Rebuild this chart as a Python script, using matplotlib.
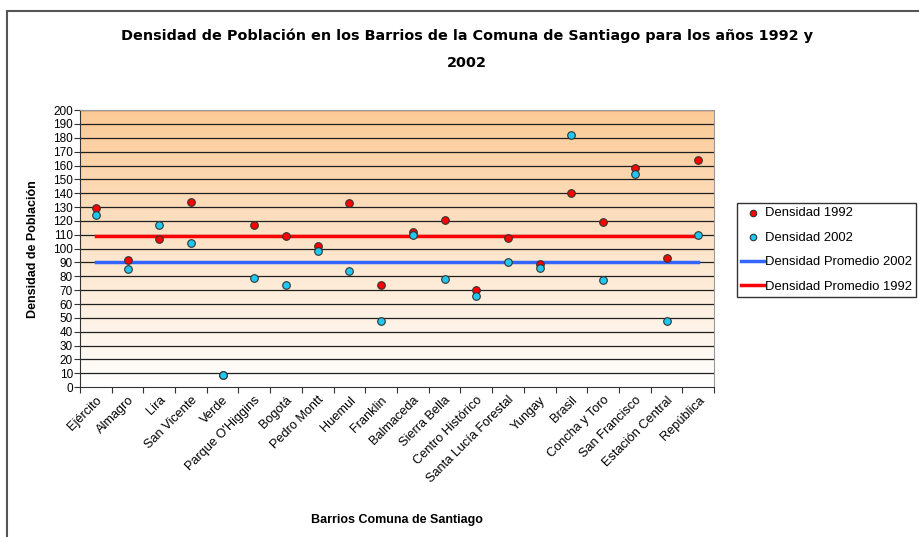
import numpy as np
import matplotlib
matplotlib.use("Agg")
import matplotlib.pyplot as plt
from matplotlib.colors import LinearSegmentedColormap
from matplotlib.patches import Rectangle

plt.rcParams['font.family'] = ['Liberation Sans', 'DejaVu Sans']

barrios = ["Ejército", "Almagro", "Lira", "San Vicente", "Verde", "Parque O'Higgins",
           "Bogotá", "Pedro Montt", "Huemul", "Franklin", "Balmaceda", "Sierra Bella",
           "Centro Histórico", "Santa Lucía Forestal", "Yungay", "Brasil",
           "Concha y Toro", "San Francisco", "Estación Central", "República"]
dens_1992 = [129, 92, 107, 134, 9, 117, 109, 102, 133, 74, 112, 121,
             70, 108, 89, 140, 119, 158, 93, 164]
dens_2002 = [124, 85, 117, 104, 9, 79, 74, 98, 84, 48, 110, 78,
             66, 90, 86, 182, 77, 154, 48, 110]
prom_1992 = 109
prom_2002 = 90

n = len(barrios)
x = np.arange(n)

fig = plt.figure(figsize=(9.19, 5.37), dpi=100)
ax = fig.add_axes([0.087, 0.279, 0.69, 0.516])

# gradient background
cmap = LinearSegmentedColormap.from_list("bg", ["#ffffff", "#fbca96"])
grad = np.linspace(0, 1, 256).reshape(-1, 1)
ax.imshow(grad, extent=[-0.5, n - 0.5, 0, 200], origin='lower', aspect='auto',
          cmap=cmap, zorder=0)

ax.set_xlim(-0.5, n - 0.5)
ax.set_ylim(0, 200)
ax.set_yticks(np.arange(0, 201, 10))
for v in range(10, 201, 10):
    ax.axhline(v, color='#202020', lw=0.9, zorder=1)

ax.plot(x, [prom_2002] * n, color='#3366ff', lw=2.5, zorder=2, label='Densidad Promedio 2002')
ax.plot(x, [prom_1992] * n, color='#ff0000', lw=2.5, zorder=2, label='Densidad Promedio 1992')
ax.scatter(x, dens_1992, s=30, color='#ff0000', edgecolor='#333333', lw=0.8, zorder=3,
           label='Densidad 1992')
ax.scatter(x, dens_2002, s=30, color='#1ec8f0', edgecolor='#333333', lw=0.8, zorder=4,
           label='Densidad 2002')

# category ticks between barrios, labels at centres
ax.set_xticks(np.arange(-0.5, n, 1))
ax.set_xticklabels([])
ax.set_xticks(x, minor=True)
ax.set_xticklabels(barrios, minor=True, rotation=45, ha='right', rotation_mode='anchor',
                   fontsize=9.2)
ax.tick_params(axis='x', which='minor', length=0, pad=5)
ax.tick_params(axis='x', which='major', length=4, direction='out', color='#333333')
ax.tick_params(axis='y', length=4, direction='out', labelsize=8.5, pad=1, color='#333333')

for s in ['top', 'right']:
    ax.spines[s].set_color('#999999')
for s in ['left', 'bottom']:
    ax.spines[s].set_color('#333333')

ax.set_ylabel("Densidad de Población", fontsize=9, fontweight='bold', labelpad=10)
fig.text(0.432, (537 - 520) / 537, "Barrios Comuna de Santiago", ha='center', va='center',
         fontsize=9, fontweight='bold')

fig.text(0.508, 1 - 36 / 537, "Densidad de Población en los Barrios de la Comuna de Santiago para los años 1992 y",
         ha='center', va='center', fontsize=10.4, fontweight='bold', family='DejaVu Sans')
fig.text(0.508, 1 - 63 / 537, "2002",
         ha='center', va='center', fontsize=10.4, fontweight='bold', family='DejaVu Sans')

handles, labels = ax.get_legend_handles_labels()
order = [2, 3, 0, 1]
fig.legend([handles[i] for i in order], [labels[i] for i in order],
           loc='upper left', bbox_to_anchor=(737 / 919, 1 - 203 / 537), fontsize=9.4,
           frameon=True, fancybox=False, edgecolor='#000000', borderpad=0.3,
           handlelength=1.8, handletextpad=0.05, labelspacing=0.95, borderaxespad=0,
           markerscale=0.85)

# outer chart border (runs off the right and bottom edges)
fig.patches.append(Rectangle((7 / 919, -0.02), 1.0, 1 - 11 / 537 + 0.02, transform=fig.transFigure,
                             fill=False, edgecolor='#555555', lw=1.5))

fig.savefig("out.png", dpi=100)
